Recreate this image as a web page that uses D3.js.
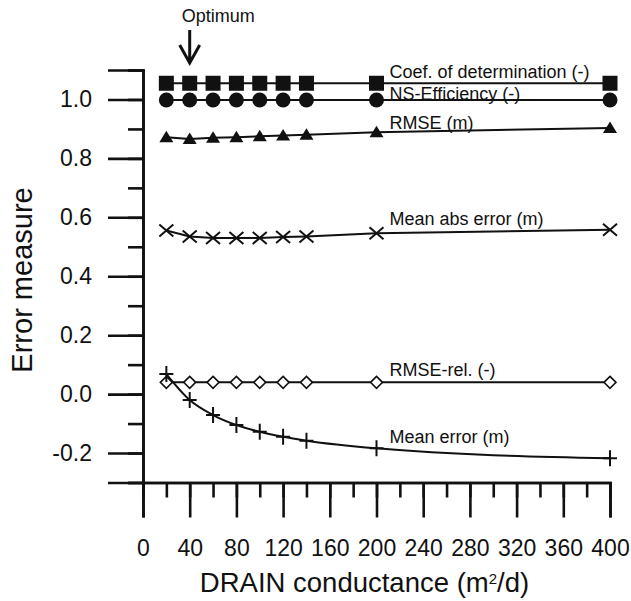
<!DOCTYPE html>
<html><head><meta charset="utf-8">
<script src="https://cdn.jsdelivr.net/npm/d3@7"></script>
<style>body{margin:0;background:#fff}svg{display:block}text{font-family:"Liberation Sans",Arial,sans-serif;fill:#111}</style>
</head><body>
<script>
const xs = [20,40,60,80,100,120,140,200,400];
const coefDet = [1.055,1.055,1.055,1.055,1.055,1.055,1.055,1.055,1.055];
const nsEff = [0.998,0.998,0.998,0.998,0.998,0.998,0.998,0.998,0.998];
const rmse = [0.872,0.866,0.870,0.872,0.875,0.878,0.880,0.889,0.903];
const meanAbs = [0.555,0.535,0.530,0.530,0.530,0.533,0.535,0.546,0.558];
const rmseRel = [0.040,0.040,0.040,0.040,0.040,0.040,0.040,0.040,0.040];
const meanErr = [0.068,-0.020,-0.071,-0.105,-0.128,-0.145,-0.158,-0.184,-0.218];
const seriesNames = ["Coef. of determination (-)","NS-Efficiency (-)","RMSE (m)","Mean abs error (m)","RMSE-rel. (-)","Mean error (m)"];
const xTicks = [0,40,80,120,160,200,240,280,320,360,400];
const yTicks = [-0.2,0.0,0.2,0.4,0.6,0.8,1.0];
const yTickLabels = ["-0.2","0.0","0.2","0.4","0.6","0.8","1.0"];
const optimumX = 40;

const W=631,H=601;
const svg=d3.select("body").append("svg").attr("width",W).attr("height",H);
const x=d3.scaleLinear().domain([0,400]).range([143,610]);
const y=d3.scaleLinear().domain([-0.3,1.1]).range([482.5,70]);
const ink="#111";

// axes
const xMinor=d3.range(0,401,20), yMinor=d3.range(-3,12).map(d=>d/10);
const gx=svg.append("g").attr("transform",`translate(0,${y(-0.3)})`);
gx.call(d3.axisBottom(x).tickValues(xMinor).tickSize(15).tickFormat(""));
gx.append("g").call(d3.axisBottom(x).tickValues(xTicks).tickSize(35).tickPadding(22).tickFormat(d3.format("d")));
const gy=svg.append("g").attr("transform",`translate(${x(0)},0)`);
gy.call(d3.axisLeft(y).tickValues(yMinor).tickSize(15).tickFormat(""));
gy.append("g").call(d3.axisLeft(y).tickValues(yTicks).tickSize(35).tickPadding(16).tickFormat((d,i)=>yTickLabels[i]));
svg.selectAll(".domain").attr("stroke",ink).attr("stroke-width",2.6);
svg.selectAll(".tick line").attr("stroke",ink).attr("stroke-width",2.6);
svg.selectAll(".tick text").style("font-size","23px").attr("fill",ink);
gx.selectAll(".tick text").attr("dy","0.71em");

// titles
svg.append("text").attr("x",(x(0)+x(400))/2-12).attr("y",592).attr("text-anchor","middle").style("font-size","27.5px")
  .html('DRAIN conductance (m<tspan baseline-shift="super" style="font-size:15px">2</tspan>/d)');
svg.append("text").attr("transform",`translate(32,280) rotate(-90)`).attr("text-anchor","middle").style("font-size","29px").text("Error measure");

const lineS=d3.line().x((d,i)=>x(xs[i])).y(d=>y(d));
const lineC=d3.line().x((d,i)=>x(xs[i])).y(d=>y(d)).curve(d3.curveMonotoneX);
function drawLine(vals,curve){
  svg.append("path").datum(vals).attr("d",(curve?lineC:lineS)).attr("fill","none").attr("stroke",ink).attr("stroke-width",2);
}
[coefDet,nsEff,rmse,meanAbs,rmseRel].forEach(v=>drawLine(v,false));
drawLine(meanErr,true);

function pts(vals){return vals.map((v,i)=>[x(xs[i]),y(v)]);}
// squares
svg.append("g").selectAll("rect").data(pts(coefDet)).join("rect")
  .attr("x",d=>d[0]-7.5).attr("y",d=>d[1]-7.5).attr("width",15).attr("height",15).attr("fill",ink);
// circles
svg.append("g").selectAll("circle").data(pts(nsEff)).join("circle")
  .attr("cx",d=>d[0]).attr("cy",d=>d[1]).attr("r",7.5).attr("fill",ink);
// triangles
svg.append("g").selectAll("path").data(pts(rmse)).join("path")
  .attr("d",d=>`M${d[0]},${d[1]-6.5}L${d[0]+7},${d[1]+5}L${d[0]-7},${d[1]+5}Z`).attr("fill",ink);
// X marks
svg.append("g").selectAll("path").data(pts(meanAbs)).join("path")
  .attr("d",d=>`M${d[0]-7},${d[1]-6}L${d[0]+7},${d[1]+6}M${d[0]-7},${d[1]+6}L${d[0]+7},${d[1]-6}`).attr("stroke",ink).attr("stroke-width",2);
// diamonds
svg.append("g").selectAll("path").data(pts(rmseRel)).join("path")
  .attr("d",d=>`M${d[0]},${d[1]-6}L${d[0]+6},${d[1]}L${d[0]},${d[1]+6}L${d[0]-6},${d[1]}Z`).attr("fill","#fff").attr("stroke",ink).attr("stroke-width",1.6);
// plus
svg.append("g").selectAll("path").data(pts(meanErr)).join("path")
  .attr("d",d=>`M${d[0]-7},${d[1]}L${d[0]+7},${d[1]}M${d[0]},${d[1]-8}L${d[0]},${d[1]+8}`).attr("stroke",ink).attr("stroke-width",2);

// series labels
const labelBase=[78,99.5,128.5,225,376,443];
seriesNames.forEach((t,i)=>{
  svg.append("text").attr("x",x(212)-1).attr("y",labelBase[i]).style("font-size","18px").text(t);
});

// optimum arrow
const ox=x(optimumX);
svg.append("text").attr("x",ox-8).attr("y",21.5).style("font-size","18px").text("Optimum");
svg.append("path").attr("d",`M${ox},30L${ox},62M${ox-10},45L${ox},63L${ox+10},45`).attr("fill","none").attr("stroke",ink).attr("stroke-width",3);
</script>
</body></html>
